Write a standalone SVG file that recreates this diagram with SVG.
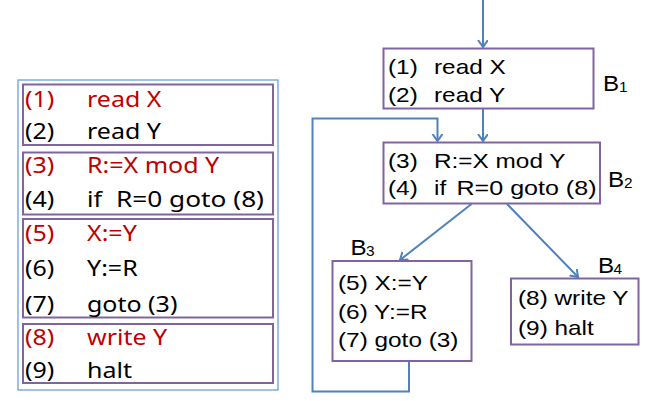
<svg xmlns="http://www.w3.org/2000/svg" width="652" height="401" viewBox="0 0 652 401">
<style>
.box{fill:#fff;stroke:#8064A2;stroke-width:2}
.outer{fill:#fff;stroke:#5B9BD5;stroke-width:1.2}
.lt{font-family:"Noto Sans","Open Sans",sans-serif;font-size:21px;fill:#000}
.red{fill:#C00000}
.rt{font-family:"Liberation Sans",Arial,sans-serif;font-size:21px;fill:#000}
.lb{font-family:"Liberation Sans",Arial,sans-serif;font-size:22px;fill:#000}
.sub{font-family:"Liberation Sans",Arial,sans-serif;font-size:14px;fill:#000}
.edge{fill:none;stroke:#4F81BD;stroke-width:2}
</style>
<defs>
<marker id="arr" markerUnits="userSpaceOnUse" markerWidth="14" markerHeight="14" refX="7" refY="5" orient="auto">
<path d="M0,0 L7,5 L0,10" fill="none" stroke="#4F81BD" stroke-width="2"/>
</marker>
</defs>
<rect width="652" height="401" fill="#fff"/>

<g id="listing">
<rect class="outer" x="18" y="80" width="260" height="310"/>
<rect class="box" x="23" y="84.5" width="250" height="60.5"/>
<rect class="box" x="23" y="152.5" width="250" height="62"/>
<rect class="box" x="23" y="219" width="250" height="98.5"/>
<rect class="box" x="23" y="324" width="250" height="59"/>
<text class="lt red" transform="matrix(1.19 0 0 1 25 107)">(1)</text>
<text class="lt red" transform="matrix(1.19 0 0 1 87 107)">read X</text>
<text class="lt" transform="matrix(1.19 0 0 1 25 138.5)">(2)</text>
<text class="lt" transform="matrix(1.19 0 0 1 87 138.5)">read Y</text>
<text class="lt red" transform="matrix(1.19 0 0 1 25 173)">(3)</text>
<text class="lt red" transform="matrix(1.19 0 0 1 87 173)">R:=X mod Y</text>
<text class="lt" transform="matrix(1.19 0 0 1 25 206.5)">(4)</text>
<text class="lt" transform="matrix(1.19 0 0 1 87 206.5)">if</text>
<text class="lt" x="116" y="206.5" textLength="148" lengthAdjust="spacingAndGlyphs">R=0 goto (8)</text>
<text class="lt red" transform="matrix(1.19 0 0 1 25 241)">(5)</text>
<text class="lt red" transform="matrix(1.19 0 0 1 87 241)">X:=Y</text>
<text class="lt" transform="matrix(1.19 0 0 1 25 276)">(6)</text>
<text class="lt" transform="matrix(1.19 0 0 1 87 276)">Y:=R</text>
<text class="lt" transform="matrix(1.19 0 0 1 25 311.5)">(7)</text>
<text class="lt" transform="matrix(1.19 0 0 1 87 311.5)">goto (3)</text>
<text class="lt red" transform="matrix(1.19 0 0 1 25 345)">(8)</text>
<text class="lt red" transform="matrix(1.19 0 0 1 87 345)">write Y</text>
<text class="lt" transform="matrix(1.19 0 0 1 25 377.5)">(9)</text>
<text class="lt" transform="matrix(1.19 0 0 1 87 377.5)">halt</text>
</g>

<g id="connectors">
<line class="edge" x1="483" y1="0" x2="483" y2="47" marker-end="url(#arr)"/>
<line class="edge" x1="483" y1="109" x2="483" y2="141" marker-end="url(#arr)"/>
<polyline class="edge" points="409,362 409,391.5 312.5,391.5 312.5,118.5 437.5,118.5 437.5,141" marker-end="url(#arr)"/>
<line class="edge" x1="471.5" y1="204" x2="400" y2="260" marker-end="url(#arr)"/>
<line class="edge" x1="507" y1="204" x2="578" y2="277" marker-end="url(#arr)"/>
</g>

<g id="B1">
<rect class="box" x="383.5" y="48.5" width="210" height="60"/>
<text class="rt" transform="matrix(1.16 0 0 1 388 73.5)">(1)</text>
<text class="rt" transform="matrix(1.16 0 0 1 434 73.5)">read X</text>
<text class="rt" transform="matrix(1.16 0 0 1 388 101.5)">(2)</text>
<text class="rt" transform="matrix(1.16 0 0 1 434 101.5)">read Y</text>
<text class="lb" transform="matrix(1.1 0 0 1 603 91)">B</text>
<text class="sub" transform="matrix(1.1 0 0 1 619 92)">1</text>
</g>

<g id="B2">
<rect class="box" x="383.5" y="142.5" width="216.5" height="61"/>
<text class="rt" transform="matrix(1.16 0 0 1 388 167.5)">(3)</text>
<text class="rt" transform="matrix(1.16 0 0 1 434 167.5)">R:=X mod Y</text>
<text class="rt" transform="matrix(1.16 0 0 1 388 195)">(4)</text>
<text class="rt" transform="matrix(1.16 0 0 1 434 195)">if</text>
<text class="rt" x="456.5" y="195" textLength="140" lengthAdjust="spacingAndGlyphs">R=0 goto (8)</text>
<text class="lb" transform="matrix(1.1 0 0 1 608 187)">B</text>
<text class="sub" transform="matrix(1.1 0 0 1 624 188)">2</text>
</g>

<g id="B3">
<rect class="box" x="332.5" y="261" width="139" height="100"/>
<text class="rt" transform="matrix(1.16 0 0 1 338 290)">(5) X:=Y</text>
<text class="rt" transform="matrix(1.16 0 0 1 338 318.5)">(6) Y:=R</text>
<text class="rt" transform="matrix(1.16 0 0 1 338 347)">(7) goto (3)</text>
<text class="lb" transform="matrix(1.1 0 0 1 350.5 255)">B</text>
<text class="sub" transform="matrix(1.1 0 0 1 366 256)">3</text>
</g>

<g id="B4">
<rect class="box" x="511" y="278.5" width="127.5" height="66"/>
<text class="rt" transform="matrix(1.16 0 0 1 518 305)">(8) write Y</text>
<text class="rt" transform="matrix(1.16 0 0 1 518 334.5)">(9) halt</text>
<text class="lb" transform="matrix(1.1 0 0 1 598 272.5)">B</text>
<text class="sub" transform="matrix(1.1 0 0 1 613.5 273.5)">4</text>
</g>
</svg>
